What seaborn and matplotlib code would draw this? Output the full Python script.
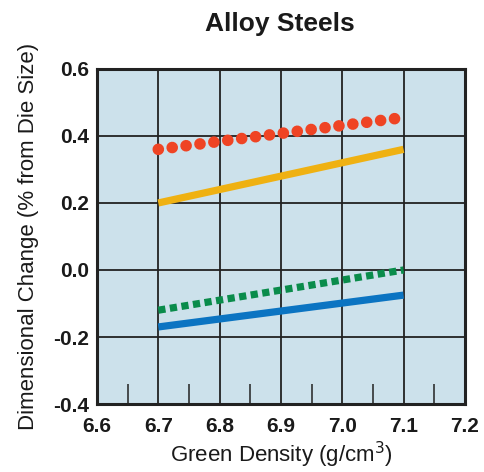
import numpy as np
import pandas as pd
import seaborn as sns
import matplotlib.pyplot as plt

# values
density = [6.7, 7.1]
red_vals = [0.36, 0.455]
yellow_vals = [0.20, 0.36]
green_vals = [-0.12, 0.0]
blue_vals = [-0.17, -0.075]

x_ticks = [6.6, 6.7, 6.8, 6.9, 7.0, 7.1, 7.2]
y_ticks = [-0.4, -0.2, 0.0, 0.2, 0.4, 0.6]
minor_x = [6.65, 6.75, 6.85, 6.95, 7.05, 7.15]

sns.set_style("white")
plt.rcParams['font.family'] = ['Liberation Sans', 'DejaVu Sans']

fig = plt.figure(figsize=(4.84, 4.72), dpi=100)
ax = fig.add_axes([0.2004, 0.144, 0.760, 0.710])
ax.set_facecolor('#cce1eb')

# lines
sns.lineplot(x=density, y=yellow_vals, ax=ax, color='#efb112', linewidth=5.2,
             solid_capstyle='butt')
sns.lineplot(x=density, y=blue_vals, ax=ax, color='#0b74c2', linewidth=5.2,
             solid_capstyle='butt')
sns.lineplot(x=density, y=green_vals, ax=ax, color='#0a8c4b', linewidth=5.2,
             linestyle=(0, (1.0, 0.62)), dash_capstyle='butt')
sns.lineplot(x=density, y=red_vals, ax=ax, color='#ef4424', linewidth=8.4,
             linestyle=(0, (0.001, 1.2)), dash_capstyle='round')

ax.set_xlim(6.6, 7.2)
ax.set_ylim(-0.4, 0.6)
ax.set_xticks(x_ticks)
ax.set_yticks(y_ticks)
ax.set_xticklabels([f"{v:.1f}" for v in x_ticks])
ax.set_yticklabels([f"{v:.1f}" for v in y_ticks])
ax.set_xticks(minor_x, minor=True)

ax.grid(True, which='major', color='#222222', linewidth=1.3)
ax.set_axisbelow(True)
ax.tick_params(axis='y', which='major', length=0, pad=6)
ax.tick_params(axis='x', which='major', length=0, pad=9)
ax.tick_params(axis='x', which='minor', direction='in', length=14.5,
               width=1.1, color='#222222', bottom=True)

for lab in ax.get_xticklabels() + ax.get_yticklabels():
    lab.set_fontweight('bold')
    lab.set_fontsize(15)
    lab.set_color('#1a1a1a')

for s in ax.spines.values():
    s.set_color('#222222')
    s.set_linewidth(2.2)

ax.set_xlabel('Green Density (g/cm$^3$)', fontsize=16, color='#1a1a1a', labelpad=3)
ax.set_ylabel('Dimensional Change (% from Die Size)', fontsize=16, color='#1a1a1a',
              labelpad=10)
fig.text(0.579, 0.949, 'Alloy Steels', ha='center', va='center', fontsize=19,
         fontweight='heavy', color='#1a1a1a')

fig.savefig('out.png', dpi=100)
